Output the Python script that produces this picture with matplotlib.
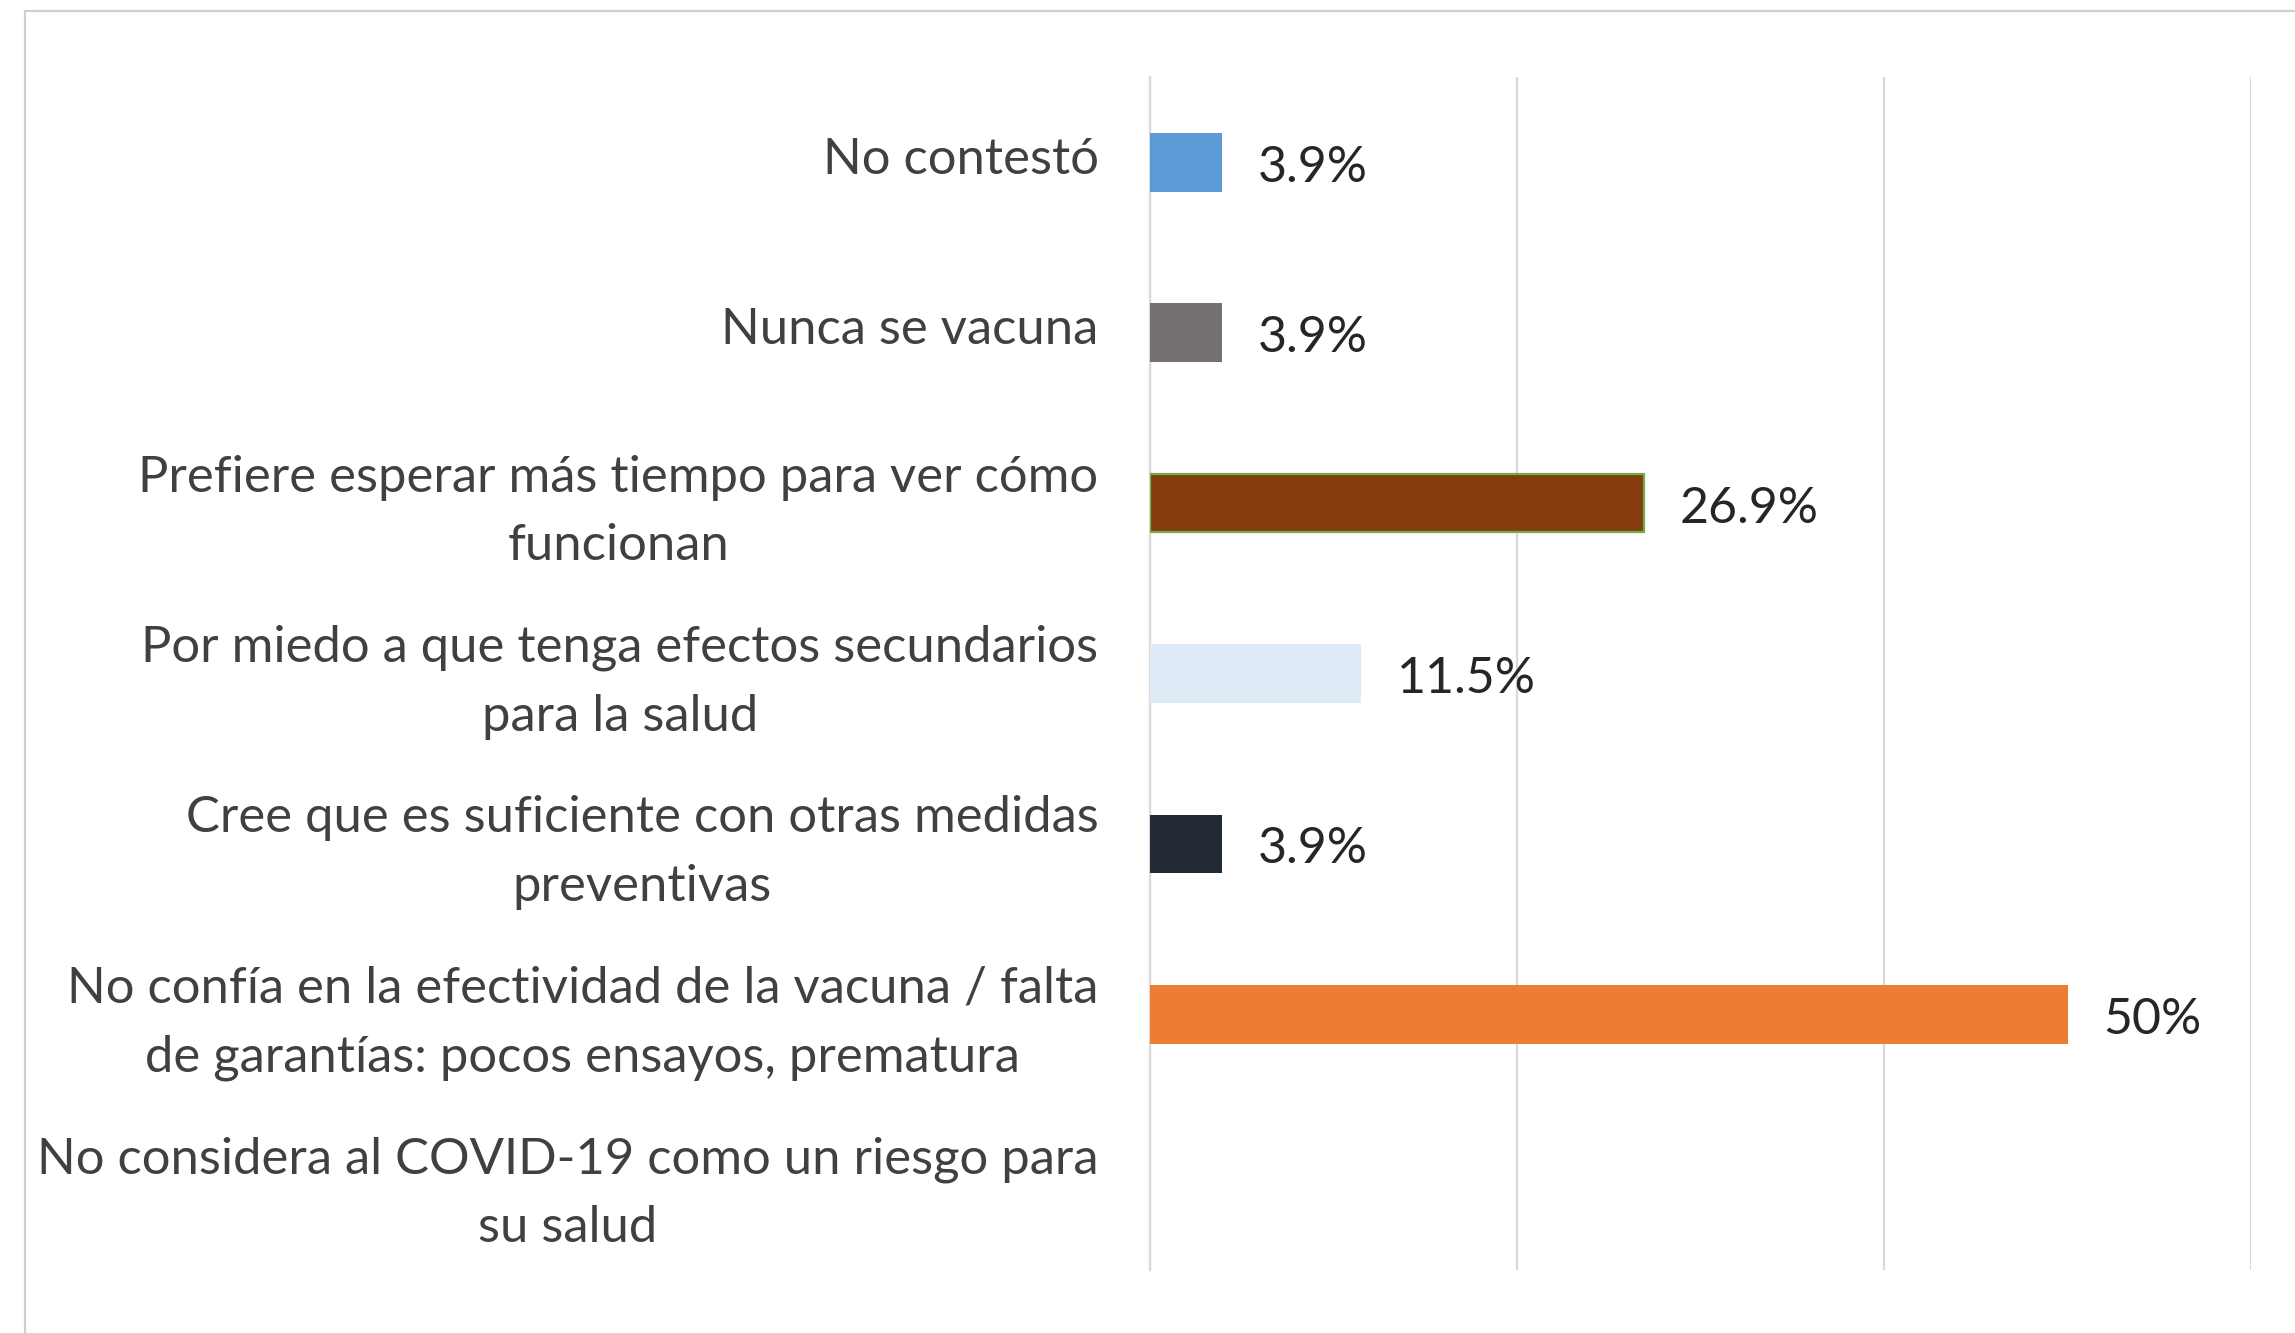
import matplotlib
matplotlib.use("Agg")
import matplotlib.pyplot as plt
import matplotlib.transforms as mtransforms
from matplotlib.patches import Rectangle

plt.rcParams["font.family"] = ["Lato", "DejaVu Sans"]

# datos (de arriba hacia abajo)
CATEGORIES = [
    "No contestó",
    "Nunca se vacuna",
    "Prefiere esperar más tiempo para ver cómo\nfuncionan",
    "Por miedo a que tenga efectos secundarios\npara la salud",
    "Cree que es suficiente con otras medidas\npreventivas",
    "No confía en la efectividad de la vacuna / falta\nde garantías: pocos ensayos, prematura",
    "No considera al COVID-19 como un riesgo para\nsu salud",
]
VALUES = [3.9, 3.9, 26.9, 11.5, 3.9, 50.0, 0.0]
VALUE_LABELS = ["3.9%", "3.9%", "26.9%", "11.5%", "3.9%", "50%", ""]
BAR_COLORS = ["#5B9BD5", "#767171", "#843C0C", "#DEEBF7", "#222A35", "#ED7D31", "#A5A5A5"]
EDGE_COLORS = ["none", "none", "#70AD47", "none", "none", "none", "none"]

W, H = 2295, 1333
fig = plt.figure(figsize=(W / 100, H / 100), dpi=100)
fig.patch.set_facecolor("white")

# marco gris del gráfico (recortado a la derecha y abajo)
fig.add_artist(Rectangle((25 / W, -0.05), 1.2, 1 - 11 / H + 0.05,
                         transform=fig.transFigure, facecolor="none",
                         edgecolor="#cfcfcf", linewidth=1.6))

ax = fig.add_axes([1150 / W, 1 - 1270 / H, (2251 - 1150) / W, (1270 - 77) / H])

ypos = list(range(len(CATEGORIES)))
ax.barh(ypos, VALUES, height=0.345, color=BAR_COLORS,
        edgecolor=EDGE_COLORS, linewidth=1.6, zorder=3)

for y, v, lab in zip(ypos, VALUES, VALUE_LABELS):
    if lab:
        ax.annotate(lab, (v, y), xytext=(26, -4), textcoords="offset points",
                    va="center", ha="left", fontsize=36, color="#262626")

ax.set_xlim(0, 60)
ax.set_ylim(len(CATEGORIES) - 0.5, -0.5)
ax.set_xticks([0, 20, 40, 60])
ax.set_xticklabels([])
ax.set_yticks(ypos)
ax.set_yticklabels(CATEGORIES, fontsize=36.5, color="#404040",
                   multialignment="center", linespacing=1.6)
ax.tick_params(axis="y", length=0, pad=37)
ax.tick_params(axis="x", length=0)

# subir un poco las etiquetas
shift = mtransforms.ScaledTranslation(0, 5 / 72, fig.dpi_scale_trans)
for t in ax.get_yticklabels():
    t.set_transform(t.get_transform() + shift)

ax.grid(axis="x", color="#d9d9d9", linewidth=1.6, zorder=0)
for side in ["top", "right", "bottom"]:
    ax.spines[side].set_visible(False)
ax.spines["left"].set_color("#d9d9d9")
ax.spines["left"].set_linewidth(1.6)

fig.savefig("out.png", dpi=100, facecolor="white")
